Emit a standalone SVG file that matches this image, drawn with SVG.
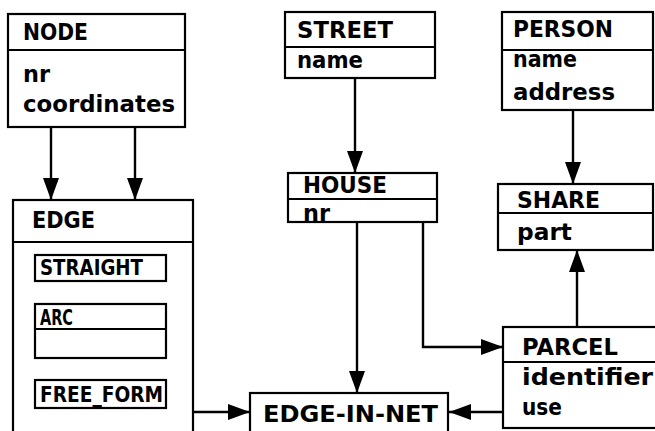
<svg xmlns="http://www.w3.org/2000/svg" width="655" height="431" viewBox="0 0 655 431">
  <style>
    .box { fill: #fff; stroke: #000; stroke-width: 2.2; }
    .div { stroke: #000; stroke-width: 2; fill: none; }
    .wire { stroke: #000; stroke-width: 2.4; fill: none; }
    .t { font-family: "DejaVu Sans", "Liberation Sans", sans-serif; font-weight: bold; font-size: 23.5px; fill: #000; }
    .s { font-family: "DejaVu Sans", "Liberation Sans", sans-serif; font-weight: bold; font-size: 20.5px; fill: #000; }
  </style>
  <defs>
    <marker id="arrow" viewBox="0 0 22 16" refX="22" refY="8" markerWidth="22" markerHeight="16" markerUnits="userSpaceOnUse" orient="auto">
      <path d="M0,0 L22,8 L0,16 Z" fill="#000"/>
    </marker>
  </defs>
  <rect width="655" height="431" fill="#fff"/>

  <!-- connectors -->
  <g id="connectors">
    <path class="wire" d="M51,127 V200" marker-end="url(#arrow)"/>
    <path class="wire" d="M135,127 V200" marker-end="url(#arrow)"/>
    <path class="wire" d="M355,78 V173" marker-end="url(#arrow)"/>
    <path class="wire" d="M573,110 V184" marker-end="url(#arrow)"/>
    <path class="wire" d="M577,327 V250" marker-end="url(#arrow)"/>
    <path class="wire" d="M423,222 V347 H503" marker-end="url(#arrow)"/>
    <path class="wire" d="M357,222 V393" marker-end="url(#arrow)"/>
    <path class="wire" d="M503,412 H449" marker-end="url(#arrow)"/>
    <path class="wire" d="M193,412 H250" marker-end="url(#arrow)"/>
  </g>

  <g id="node">
    <rect class="box" x="8" y="14" width="177" height="113"/>
    <line class="div" x1="8" y1="50" x2="185" y2="50"/>
    <text class="t" x="23" y="40" textLength="65" lengthAdjust="spacingAndGlyphs">NODE</text>
    <text class="t" x="23" y="82" textLength="27" lengthAdjust="spacingAndGlyphs">nr</text>
    <text class="t" x="23" y="112" textLength="152" lengthAdjust="spacingAndGlyphs">coordinates</text>
  </g>

  <g id="edge">
    <rect class="box" x="13" y="200" width="180" height="240"/>
    <line class="div" x1="13" y1="242" x2="193" y2="242"/>
    <text class="t" x="32" y="228" textLength="63" lengthAdjust="spacingAndGlyphs">EDGE</text>
    <g id="straight">
      <rect class="box" x="35" y="255" width="131" height="26"/>
      <text class="s" x="40" y="275" textLength="103" lengthAdjust="spacingAndGlyphs">STRAIGHT</text>
    </g>
    <g id="arc">
      <rect class="box" x="35" y="304" width="131" height="54"/>
      <line class="div" x1="35" y1="329" x2="166" y2="329"/>
      <text class="s" x="40" y="325" textLength="33" lengthAdjust="spacingAndGlyphs">ARC</text>
    </g>
    <g id="free-form">
      <rect class="box" x="35" y="380" width="131" height="28"/>
      <text class="s" x="40" y="402" textLength="123" lengthAdjust="spacingAndGlyphs">FREE_FORM</text>
    </g>
  </g>

  <g id="street">
    <rect class="box" x="285" y="12" width="150" height="66"/>
    <line class="div" x1="285" y1="47" x2="435" y2="47"/>
    <text class="t" x="297" y="38" textLength="96" lengthAdjust="spacingAndGlyphs">STREET</text>
    <text class="t" x="297" y="68" textLength="66" lengthAdjust="spacingAndGlyphs">name</text>
  </g>

  <g id="house">
    <rect class="box" x="288" y="173" width="149" height="49"/>
    <line class="div" x1="288" y1="199" x2="437" y2="199"/>
    <text class="t" x="303" y="193" font-size="20" textLength="84" lengthAdjust="spacingAndGlyphs">HOUSE</text>
    <text class="t" x="303" y="221" font-size="18" textLength="27" lengthAdjust="spacingAndGlyphs">nr</text>
  </g>

  <g id="person">
    <rect class="box" x="502" y="12" width="151" height="98"/>
    <line class="div" x1="502" y1="50" x2="653" y2="50"/>
    <text class="t" x="513" y="37" textLength="100" lengthAdjust="spacingAndGlyphs">PERSON</text>
    <text class="t" x="513" y="67" textLength="64" lengthAdjust="spacingAndGlyphs">name</text>
    <text class="t" x="513" y="100" textLength="102" lengthAdjust="spacingAndGlyphs">address</text>
  </g>

  <g id="share">
    <rect class="box" x="498" y="184" width="155" height="66"/>
    <line class="div" x1="498" y1="213" x2="653" y2="213"/>
    <text class="t" x="517" y="208" textLength="83" lengthAdjust="spacingAndGlyphs">SHARE</text>
    <text class="t" x="517" y="240" textLength="55" lengthAdjust="spacingAndGlyphs">part</text>
  </g>

  <g id="parcel">
    <rect class="box" x="503" y="327" width="160" height="101"/>
    <line class="div" x1="503" y1="362" x2="663" y2="362"/>
    <text class="t" x="522" y="355" textLength="96" lengthAdjust="spacingAndGlyphs">PARCEL</text>
    <text class="t" x="522" y="385" textLength="131" lengthAdjust="spacingAndGlyphs">identifier</text>
    <text class="t" x="522" y="415" textLength="40" lengthAdjust="spacingAndGlyphs">use</text>
  </g>

  <g id="edge-in-net">
    <rect class="box" x="250" y="393" width="198" height="45"/>
    <text class="t" x="263" y="422" textLength="175" lengthAdjust="spacingAndGlyphs">EDGE-IN-NET</text>
  </g>
</svg>
